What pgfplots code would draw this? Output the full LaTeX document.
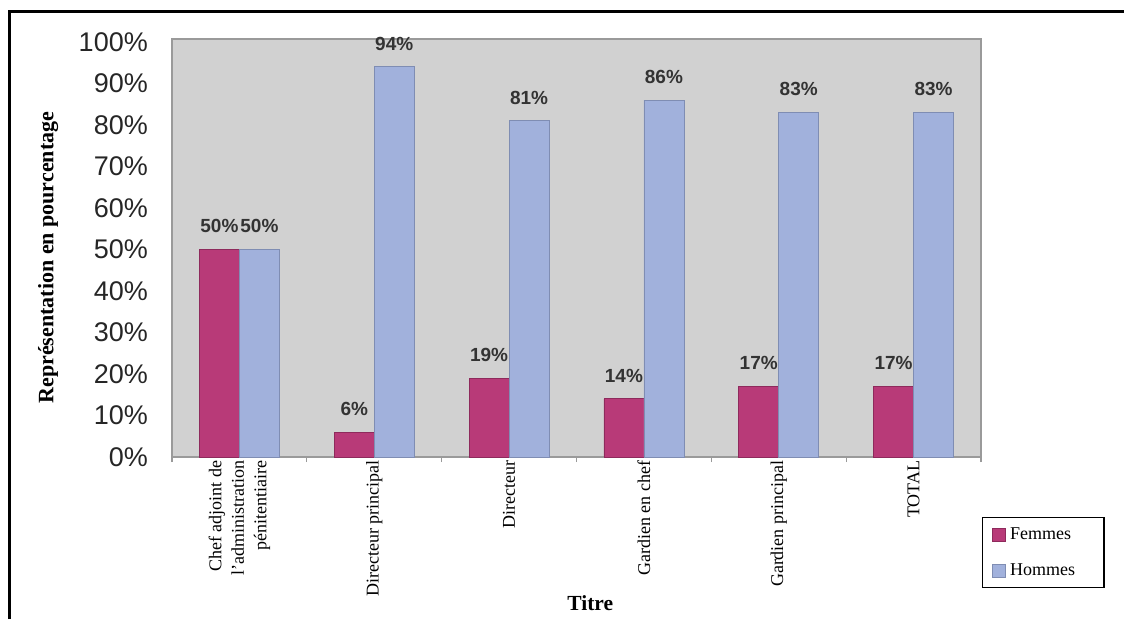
\documentclass[border=0pt]{standalone}
\usepackage{fontspec}
\setmainfont{Liberation Serif}
\newfontfamily\arial{Liberation Sans}
\usepackage{pgfplots}
\pgfplotsset{compat=1.18}

\definecolor{femmes}{HTML}{B83A78}
\definecolor{femmesedge}{HTML}{8E2A5C}
\definecolor{hommes}{HTML}{A1B1DC}
\definecolor{hommesedge}{HTML}{7F8DB3}
\definecolor{plotbg}{HTML}{D1D1D1}
\definecolor{axisgray}{HTML}{9A9A9A}
\definecolor{labelgray}{HTML}{333333}

\pgfplotsset{
  swatch/.style={legend image code/.code={%
      \draw[##1, line width=0.6pt] (0pt,-6.5pt) rectangle (13pt,6.5pt);}},
}

\begin{document}
\begin{tikzpicture}[x=1pt,y=1pt]
\useasboundingbox (0,0) rectangle (1124,619);
% frame around the figure
\draw[line width=3pt] (9,0) -- (9,607) -- (1124,607);
\begin{axis}[
  at={(172pt,162pt)}, anchor=south west,
  width=809pt, height=418pt, scale only axis,
  xmin=-0.5, xmax=5.5, ymin=0, ymax=100.7,
  ybar=0pt, bar width=40pt,
  axis background/.style={fill=plotbg},
  axis line style={draw=axisgray, line width=1.2pt},
  tick pos=left,
  major tick length=0pt,
  minor tick length=5pt,
  tick align=outside,
  xtick={0,...,5},
  xticklabels={{Chef adjoint de\\l’administration\\pénitentiaire},
    Directeur principal, Directeur, Gardien en chef, Gardien principal, TOTAL},
  xticklabel style={rotate=90, anchor=east, align=right,
    font=\fontsize{18}{22.5}\selectfont},
  minor xtick={-0.5,0.5,...,5.5},
  minor x tick style={draw=axisgray, line width=1.2pt},
  major x tick style={draw=none},
  ytick={0,10,...,100},
  yticklabels={0\%,10\%,20\%,30\%,40\%,50\%,60\%,70\%,80\%,90\%,100\%},
  yticklabel style={anchor=east, inner sep=0pt, xshift=-24pt,
    font=\arial\fontsize{27}{30}\selectfont, text=black!85},
  major y tick style={draw=none},
  ylabel={Représentation en pourcentage},
  ylabel style={at={(axis description cs:-0.153,0.477)}, anchor=center,
    font=\bfseries\fontsize{22}{24}\selectfont},
  xlabel={Titre},
  xlabel style={at={(axis description cs:0.517,-0.349)}, anchor=center,
    font=\bfseries\fontsize{21.5}{24}\selectfont},
  nodes near coords={\pgfmathprintnumber[assume math mode=true]{\pgfplotspointmeta}\%},
  nodes near coords style={font=\arial\bfseries\fontsize{19}{21}\selectfont,
    text=labelgray, anchor=south, inner sep=0pt, yshift=16pt},
  legend style={at={(axis description cs:1.001,-0.1435)}, anchor=north west,
    draw=black, line width=1.5pt, inner xsep=9pt, inner ysep=8pt,
    row sep=19pt, font=\fontsize{18}{21}\selectfont},
  legend cell align=left,
]
\addplot[fill=femmes, draw=femmesedge, line width=0.8pt, swatch]
  coordinates {(0,50) (1,6) (2,19) (3,14) (4,17) (5,17)};
\addplot[fill=hommes, draw=hommesedge, line width=0.8pt, swatch]
  coordinates {(0,50) (1,94) (2,81) (3,86) (4,83) (5,83)};
\legend{\makebox[86pt][l]{\hspace{3pt}Femmes}, \makebox[86pt][l]{\hspace{3pt}Hommes}}
\end{axis}
\end{tikzpicture}
\end{document}
